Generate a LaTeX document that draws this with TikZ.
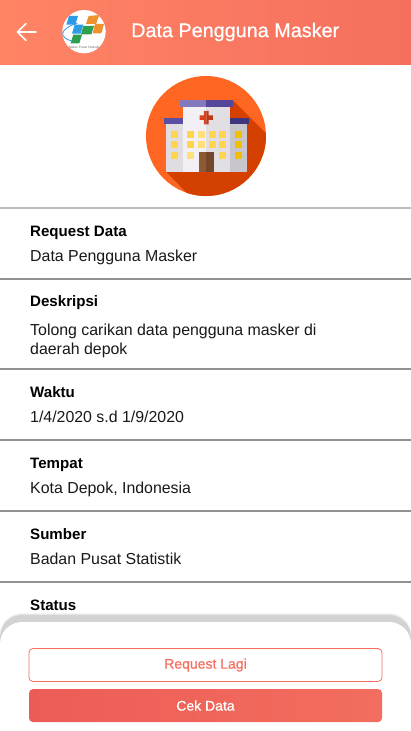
\documentclass[tikz,border=0pt]{standalone}
\usepackage{xcolor}
\usepackage{fontspec}
\setmainfont{Liberation Sans}
\newfontfamily\mediumfont[FakeBold=0.7]{Liberation Sans}
\usetikzlibrary{positioning, calc}
\definecolor{headleft}{HTML}{FF8464}
\definecolor{headright}{HTML}{F56F5E}
\definecolor{btnleft}{HTML}{EC5C56}
\definecolor{btnright}{HTML}{F36E5E}
\definecolor{rulelight}{HTML}{BDBDBD}
\definecolor{rulegray}{HTML}{919191}
\definecolor{discfront}{HTML}{FF6622}
\definecolor{discback}{HTML}{D44000}
\definecolor{wallleft}{HTML}{DFDDE1}
\definecolor{wallright}{HTML}{C9C5CD}
\definecolor{wallmid}{HTML}{F2F0F4}
\definecolor{wallmidb}{HTML}{E1DFE4}
\definecolor{roofleft}{HTML}{5A4FA3}
\definecolor{roofright}{HTML}{40367F}
\definecolor{roofmid}{HTML}{8479BE}
\definecolor{roofmidb}{HTML}{54479B}
\definecolor{crossa}{HTML}{D9441E}
\definecolor{crossb}{HTML}{B93A15}
\definecolor{wina}{HTML}{FFD54F}
\definecolor{winb}{HTML}{FFE07A}
\definecolor{winc}{HTML}{F2BE00}
\definecolor{doora}{HTML}{8E5A33}
\definecolor{doorb}{HTML}{74472A}
\definecolor{logoblue}{HTML}{2E9BE6}
\definecolor{logoorange}{HTML}{F0922B}
\definecolor{logogreen}{HTML}{2E9E4F}
\tikzstyle{rowlabel} = [anchor=base west, inner sep=0pt, font=\fontsize{15.1}{17}\selectfont\bfseries, text=black]
\tikzstyle{rowvalue} = [inner sep=0pt, font=\fontsize{15.9}{19}\selectfont, text=black!90, align=left]
\tikzstyle{rowrule}  = [draw=rulegray, line width=1.8pt]
\tikzstyle{button}   = [rectangle, rounded corners=4pt, minimum width=353pt, minimum height=33pt, inner sep=0pt,
                        font=\fontsize{14}{16}\selectfont\mediumfont]
\begin{document}
\begin{tikzpicture}[x=1pt, y=-1pt]
  \useasboundingbox (0,0) rectangle (411,731);
  \fill[white] (0,0) rectangle (411,731);

  %% Header
  \fill[left color=headleft, right color=headright] (0,0) rectangle (411,64);
  \draw[white, line width=1.6pt, line cap=round, line join=round]
        (26,23.5) -- (17.5,32) -- (26,40.5) (17.5,32) -- (36,32);
  \node[anchor=west, inner sep=0pt, text=white, font=\fontsize{19.8}{24}\selectfont\mediumfont]
        (title) at (131,32) {Data Pengguna Masker};

  %% Logo
  \begin{scope}[x=0.3333pt, y=-0.3333pt]
    \fill[white] (252,95) circle (65);
    \begin{scope}
      \clip (252,95) circle (65);
      \draw[logoblue, line width=0.8pt] (232,70) .. controls (180,85) and (170,115) .. (225,125);
      \fill[logoblue] (207,48) -- (234,48) -- (226,74) -- (199,74) -- cycle;
      \fill[logoblue] (224,74) -- (250,74) -- (242,101) -- (216,101) -- cycle;
      \fill[logoorange] (266,48) -- (298,45) -- (288,72) -- (258,72) -- cycle;
      \fill[logoorange] (285,72) -- (312,72) -- (304,100) -- (278,100) -- cycle;
      \fill[logogreen] (250,78) -- (282,78) -- (274,103) -- (243,103) -- cycle;
      \fill[logogreen] (220,104) -- (246,104) -- (238,130) -- (212,130) -- cycle;
      \node[text=black!55, font=\fontsize{3.2}{4}\selectfont, inner sep=0pt] (logotext) at (252,142) {Badan Pusat Statistik};
    \end{scope}
  \end{scope}

  %% Hospital
  \begin{scope}[shift={(130,65)}, x=0.3333pt, y=-0.3333pt]
    \fill[discfront] (228,213) circle (180);
    \begin{scope}
      \clip (228,213) circle (180);
      \fill[discback] (308,105) -- (470,267) -- (470,450) -- (235,450) -- (108,320) -- cycle;
    \end{scope}
    %% wings
    \fill[wallleft] (108,178) rectangle (158,320);
    \fill[wallright] (300,178) rectangle (350,320);
    \fill[roofleft] (101,158) rectangle (158,178);
    \fill[roofright] (300,158) rectangle (358,178);
    %% centre block
    \fill[wallmid] (158,126) rectangle (229,320);
    \fill[wallmidb] (229,126) rectangle (300,320);
    \fill[roofmid] (150,105) rectangle (229,126);
    \fill[roofmidb] (229,105) rectangle (308,126);
    %% cross
    \fill[crossa] (222,138) rectangle (229,178) (209,151) rectangle (229,165);
    \fill[crossb] (229,138) rectangle (236,178) (229,151) rectangle (249,165);
    %% windows
    \foreach \cx/\cy/\wcol in {123/197/wina,123/229/wina,123/261/wina,
        171/197/wina,171/229/wina,171/261/winb,
        204/197/winb,204/229/winb,
        236/197/wina,236/229/wina,
        268/197/wina,268/229/wina,268/261/wina,
        316/197/winc,316/229/winc,316/261/winc}
      \fill[\wcol] (\cx,\cy) rectangle ++(21,21);
    %% door
    \fill[doora] (207,260) rectangle (229,320);
    \fill[doorb] (229,260) rectangle (252,320);
  \end{scope}

  %% Rows
  \draw[rowrule, draw=rulelight] (0,208) -- (411,208);
  \foreach \ruley in {278.7,369,439.7,510.7,581.7}
    \draw[rowrule] (0,\ruley) -- (411,\ruley);

  \node[rowlabel] (reqlabel) at (30,236) {Request Data};
  \node[rowvalue, below=25pt of reqlabel.base west, anchor=base west] (reqvalue) {Data Pengguna Masker};
  \node[rowlabel] (desclabel) at (30,306.7) {Deskripsi};
  \node[rowvalue, below=17pt of desclabel.base west, anchor=north west] (descvalue)
        {Tolong carikan data pengguna masker di\\daerah depok};
  \node[rowlabel] (timelabel) at (30,397) {Waktu};
  \node[rowvalue, below=25pt of timelabel.base west, anchor=base west] (timevalue) {1/4/2020 s.d 1/9/2020};
  \node[rowlabel] (placelabel) at (30,468) {Tempat};
  \node[rowvalue, below=25pt of placelabel.base west, anchor=base west] (placevalue) {Kota Depok, Indonesia};
  \node[rowlabel] (srclabel) at (30,539) {Sumber};
  \node[rowvalue, below=25pt of srclabel.base west, anchor=base west] (srcvalue) {Badan Pusat Statistik};
  \node[rowlabel] (statlabel) at (30,610) {Status};

  %% Bottom sheet
  \foreach \spread/\tone in {9/4,8/6,7/8}
    \fill[black, opacity=0.01*\tone] (0,731) [rounded corners=22pt] -- (0,622-\spread)
        -- (411,622-\spread) [sharp corners] -- (411,731) -- cycle;
  \fill[white] (0,731) [rounded corners=22pt] -- (0,622) -- (411,622) [sharp corners] -- (411,731) -- cycle;
  \node[button, draw=headright, line width=0.8pt, text=headright] (again) at (205.5,665) {Request Lagi};
  \node[button, left color=btnleft, right color=btnright, text=white, below=7pt of again] (check) {Cek Data};

\end{tikzpicture}
\end{document}
